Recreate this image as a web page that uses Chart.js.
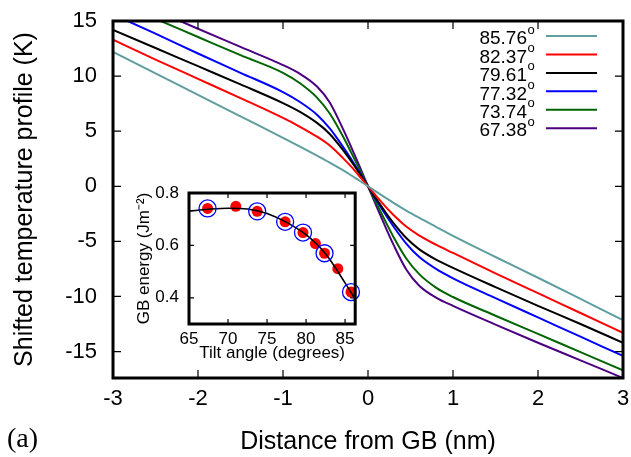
<!DOCTYPE html>
<html>
<head>
<meta charset="utf-8">
<script src="https://cdn.jsdelivr.net/npm/chart.js@4.4.0/dist/chart.umd.min.js"></script>
<style>
  html, body { margin: 0; padding: 0; background: #fff; }
  #wrap { position: relative; width: 631px; height: 457px; }
  #main { position: absolute; left: 0; top: 0; }
  #inset { position: absolute; left: 125px; top: 183px; }
</style>
</head>
<body>
<div id="wrap">
  <canvas id="main" width="631" height="457"></canvas>
  <canvas id="inset" width="240" height="190"></canvas>
</div>
<script>
// main panel: shifted temperature profiles, one per tilt angle
const distance = [-3, -2.5, -2, -1.5, -1, -0.8, -0.6, -0.45, -0.3, -0.2, -0.1, 0,
                  0.1, 0.2, 0.3, 0.45, 0.6, 0.8, 1, 1.5, 2, 2.5, 3];
const t8576 = [12.2, 10.25, 8.3, 6.35, 4.4, 3.6, 2.78, 2.15, 1.48, 1.0, 0.5, 0,
               -0.5, -1.0, -1.5, -2.2, -2.85, -3.68, -4.5, -6.42, -8.3, -10.22, -12.15];
const t8237 = [13.3, 11.5, 9.75, 8.0, 6.2, 5.4, 4.5, 3.7, 2.6, 1.8, 0.91, 0,
               -0.91, -1.8, -2.6, -3.65, -4.45, -5.3, -6.05, -7.9, -9.7, -11.5, -13.3];
const t7961 = [14.2, 12.55, 10.9, 9.25, 7.55, 6.75, 5.75, 4.75, 3.35, 2.3, 1.17, 0,
               -1.17, -2.3, -3.35, -4.7, -5.7, -6.65, -7.4, -9.15, -10.85, -12.5, -14.2];
const t7732 = [15.6, 13.85, 12.05, 10.3, 8.55, 7.65, 6.5, 5.25, 3.65, 2.5, 1.26, 0,
               -1.26, -2.5, -3.65, -5.2, -6.4, -7.5, -8.35, -10.15, -11.9, -13.65, -15.4];
const t7374 = [16.9, 15.2, 13.55, 11.9, 10.3, 9.35, 8.05, 6.6, 4.6, 3.1, 1.56, 0,
               -1.56, -3.1, -4.6, -6.55, -7.95, -9.2, -10.05, -11.75, -13.4, -15.05, -16.7];
const t6738 = [17.6, 15.95, 14.3, 12.65, 11.0, 10.2, 9.05, 7.6, 5.3, 3.6, 1.82, 0,
               -1.82, -3.6, -5.3, -7.55, -9.0, -10.1, -10.85, -12.55, -14.2, -15.8, -17.4];
const seriesLabels = ['85.76', '82.37', '79.61', '77.32', '73.74', '67.38'];
const xTicks = [-3, -2, -1, 0, 1, 2, 3];
const yTicks = [-15, -10, -5, 0, 5, 10, 15];

// inset: GB energy vs tilt angle
const tiltAngle = [67.38, 71.0, 73.74, 77.32, 79.61, 81.2, 82.37, 84.07, 85.76];
const gbEnergy = [0.741, 0.749, 0.730, 0.690, 0.649, 0.607, 0.570, 0.511, 0.422];
const circledAngle = [67.38, 73.74, 77.32, 79.61, 82.37, 85.76];
const circledEnergy = [0.741, 0.730, 0.690, 0.649, 0.570, 0.422];
const fitAngle = [65, 67.5, 70, 72.5, 75, 77.5, 80, 82.5, 85, 86.3];
const fitEnergy = [0.731, 0.738, 0.742, 0.739, 0.722, 0.688, 0.641, 0.568, 0.457, 0.395];
const insetXTicks = [65, 70, 75, 80, 85];
const insetYTicks = [0.4, 0.6, 0.8];

const profiles = [t8576, t8237, t7961, t7732, t7374, t6738];
const colours = ['#5f9ea0', '#ff0000', '#000000', '#0000ff', '#006400', '#4b0082'];
const sans = '"Liberation Sans", Arial, sans-serif';

function toXY(xs, ys) {
  return xs.map((x, i) => ({ x: x, y: ys[i] }));
}

// fixed axis box sizes, no extra label padding from chart.js
function fixBox(w, h) {
  return s => {
    if (w !== null) s.width = w;
    if (h !== null) s.height = h;
    s.paddingLeft = 0; s.paddingRight = 0; s.paddingTop = 0; s.paddingBottom = 0;
  };
}

// gnuplot style box with inward ticks on all four sides
function framePlugin(tickLen, boxWidth) {
  return {
    id: 'frame',
    afterDatasetsDraw(chart) {
      const ctx = chart.ctx;
      const a = chart.chartArea;
      const sx = chart.scales.x, sy = chart.scales.y;
      ctx.save();
      ctx.strokeStyle = '#000';
      ctx.lineWidth = 1.2;
      ctx.beginPath();
      sx.ticks.forEach(t => {
        const px = sx.getPixelForValue(t.value);
        ctx.moveTo(px, a.bottom); ctx.lineTo(px, a.bottom - tickLen);
        ctx.moveTo(px, a.top); ctx.lineTo(px, a.top + tickLen);
      });
      sy.ticks.forEach(t => {
        const py = sy.getPixelForValue(t.value);
        ctx.moveTo(a.left, py); ctx.lineTo(a.left + tickLen, py);
        ctx.moveTo(a.right, py); ctx.lineTo(a.right - tickLen, py);
      });
      ctx.stroke();
      ctx.lineWidth = boxWidth;
      ctx.strokeRect(a.left, a.top, a.right - a.left, a.bottom - a.top);
      ctx.restore();
    }
  };
}

const keyPlugin = {
  id: 'key',
  afterDraw(chart) {
    const ctx = chart.ctx;
    ctx.save();
    ctx.fillStyle = '#000';
    chart.data.datasets.forEach((ds, i) => {
      const yy = 36 + i * 18.45;
      ctx.font = '19px ' + sans;
      ctx.textAlign = 'right';
      ctx.textBaseline = 'middle';
      ctx.fillText(ds.label, 527, yy + 3);
      ctx.font = '13px ' + sans;
      ctx.textAlign = 'left';
      ctx.fillText('o', 527.5, yy - 6);
      ctx.strokeStyle = ds.borderColor;
      ctx.lineWidth = 2;
      ctx.beginPath();
      ctx.moveTo(546, yy);
      ctx.lineTo(597, yy);
      ctx.stroke();
    });
    ctx.font = '28px "Liberation Serif", "DejaVu Serif", serif';
    ctx.textAlign = 'left';
    ctx.textBaseline = 'middle';
    ctx.fillText('(a)', 7, 440);
    ctx.restore();
  }
};

new Chart(document.getElementById('main'), {
  type: 'line',
  data: {
    datasets: seriesLabels.map((lab, i) => ({
      label: lab,
      data: toXY(distance, profiles[i]),
      borderColor: colours[i],
      borderWidth: 2,
      pointRadius: 0,
      fill: false,
      cubicInterpolationMode: 'monotone'
    }))
  },
  options: {
    responsive: false,
    animation: false,
    devicePixelRatio: 1,
    layout: { padding: { top: 21, right: 8, left: 0, bottom: 0 } },
    plugins: { legend: { display: false }, tooltip: { enabled: false } },
    scales: {
      x: {
        type: 'linear', min: -3, max: 3,
        afterBuildTicks: s => { s.ticks = xTicks.map(v => ({ value: v })); },
        afterFit: fixBox(null, 79),
        grid: { display: false, drawTicks: false },
        border: { display: false },
        ticks: { color: '#000', font: { family: sans, size: 22 }, padding: 8, maxRotation: 0 },
        title: { display: true, text: 'Distance from GB (nm)', color: '#000',
                 font: { family: sans, size: 25, lineHeight: 1.2 }, padding: { top: 0, bottom: 0 } }
      },
      y: {
        type: 'linear', min: -17.4, max: 15,
        afterBuildTicks: s => { s.ticks = yTicks.map(v => ({ value: v })); },
        afterFit: fixBox(113, null),
        grid: { display: false, drawTicks: false },
        border: { display: false },
        ticks: { color: '#000', font: { family: sans, size: 22 }, padding: 16 },
        title: { display: true, text: 'Shifted temperature profile (K)', color: '#000',
                 font: { family: sans, size: 25, lineHeight: 1.2 }, padding: { top: 10, bottom: 0 } }
      }
    }
  },
  plugins: [framePlugin(8, 3), keyPlugin]
});

new Chart(document.getElementById('inset'), {
  type: 'scatter',
  data: {
    datasets: [
      { data: toXY(circledAngle, circledEnergy), pointRadius: 8.5, pointBackgroundColor: 'rgba(0,0,0,0)',
        pointBorderColor: '#0000ff', pointBorderWidth: 1.3, showLine: false, clip: false, order: 1 },
      { type: 'line', data: toXY(fitAngle, fitEnergy), borderColor: '#000', borderWidth: 1.6,
        pointRadius: 0, fill: false, cubicInterpolationMode: 'monotone', order: 2 },
      { data: toXY(tiltAngle, gbEnergy), pointRadius: 5.5, pointBackgroundColor: '#ff0000',
        pointBorderWidth: 0, showLine: false, clip: false, order: 3 }
    ]
  },
  options: {
    responsive: false,
    animation: false,
    devicePixelRatio: 1,
    layout: { padding: { top: 10, right: 8, left: 0, bottom: 0 } },
    plugins: { legend: { display: false }, tooltip: { enabled: false } },
    scales: {
      x: {
        type: 'linear', min: 65, max: 86.3,
        afterBuildTicks: s => { s.ticks = insetXTicks.map(v => ({ value: v })); },
        afterFit: fixBox(null, 49),
        grid: { display: false, drawTicks: false },
        border: { display: false },
        ticks: { color: '#000', font: { family: sans, size: 17 }, padding: 5, maxRotation: 0 },
        title: { display: true, text: 'Tilt angle (degrees)', color: '#000',
                 font: { family: sans, size: 17, lineHeight: 1.2 }, padding: { top: 0, bottom: 9 } }
      },
      y: {
        type: 'linear', min: 0.3, max: 0.8,
        afterBuildTicks: s => { s.ticks = insetYTicks.map(v => ({ value: v })); },
        afterFit: fixBox(64, null),
        grid: { display: false, drawTicks: false },
        border: { display: false },
        ticks: { color: '#000', font: { family: sans, size: 17 }, padding: 10,
                 callback: v => v.toFixed(1) },
        title: { display: true, text: 'GB energy (Jm⁻²)', color: '#000',
                 font: { family: sans, size: 17, lineHeight: 1.2 }, padding: { top: 9, bottom: 0 } }
      }
    }
  },
  plugins: [framePlugin(5, 3)]
});
</script>
</body>
</html>
